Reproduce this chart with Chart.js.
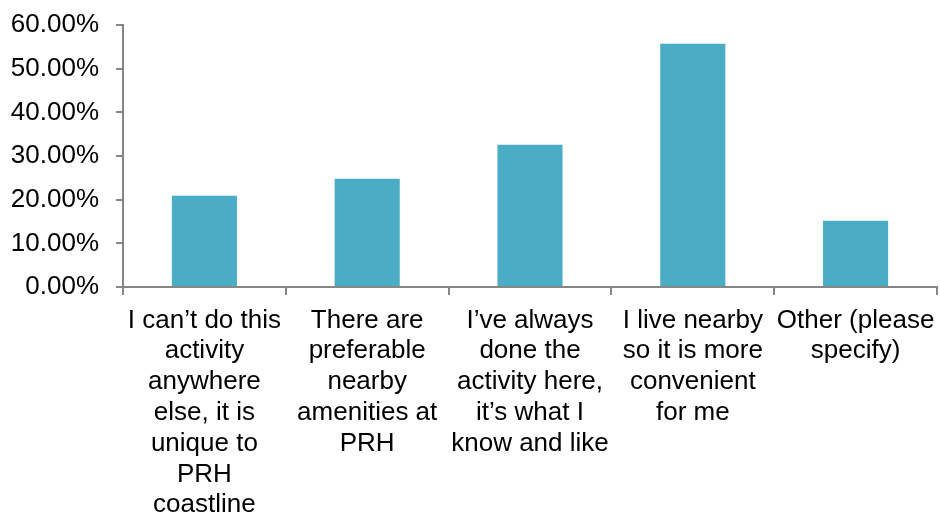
<!DOCTYPE html>
<html>
<head>
<meta charset="utf-8">
<script src="https://cdn.jsdelivr.net/npm/chart.js@4"></script>
<style>
  body { margin: 0; background: #fff; }
  #wrap { width: 940px; height: 515px; }
</style>
</head>
<body>
<div id="wrap"><canvas id="reasonChart" width="940" height="515"></canvas></div>
<script>
const categories = [
    ["I can’t do this", "activity", "anywhere", "else, it is", "unique to", "PRH", "coastline"],
    ["There are", "preferable", "nearby", "amenities at", "PRH"],
    ["I’ve always", "done the", "activity here,", "it’s what I", "know and like"],
    ["I live nearby", "so it is more", "convenient", "for me"],
    ["Other (please", "specify)"]
];
const percentages = [20.9, 24.8, 32.6, 55.7, 15.2];
const yTicks = [0, 10, 20, 30, 40, 50, 60];

const axisGrey = '#868686';
const fontFamily = 'Arial, "Liberation Sans", sans-serif';

const ctx = document.getElementById('reasonChart').getContext('2d');

new Chart(ctx, {
    type: 'bar',
    data: {
        labels: categories,
        datasets: [{
            data: percentages,
            backgroundColor: '#4BACC6',
            borderWidth: 0,
            barPercentage: 0.4,
            categoryPercentage: 1
        }]
    },
    options: {
        responsive: false,
        animation: false,
        layout: { padding: { top: 25, right: 3, bottom: 0, left: 0 } },
        plugins: {
            legend: { display: false },
            tooltip: { enabled: false }
        },
        scales: {
            x: {
                grid: {
                    display: true,
                    offset: true,
                    drawOnChartArea: false,
                    tickLength: 8,
                    color: axisGrey,
                    lineWidth: 2
                },
                border: { display: true, color: axisGrey, width: 2 },
                ticks: {
                    autoSkip: false,
                    maxRotation: 0,
                    minRotation: 0,
                    padding: 10,
                    color: '#000',
                    font: { family: fontFamily, size: 26, lineHeight: 1.185 }
                },
                afterFit: (scale) => {
                    // fixed band for the wrapped category names
                    scale.height = 228;
                    scale.paddingLeft = 0;
                    scale.paddingRight = 0;
                }
            },
            y: {
                min: 0,
                max: 60,
                afterBuildTicks: (scale) => {
                    scale.ticks = yTicks.map(v => ({ value: v }));
                },
                grid: {
                    display: true,
                    drawOnChartArea: false,
                    tickLength: 7,
                    color: axisGrey,
                    lineWidth: 2
                },
                border: { display: true, color: axisGrey, width: 2 },
                ticks: {
                    padding: 17,
                    color: '#000',
                    font: { family: fontFamily, size: 26 },
                    callback: (v) => v.toFixed(2) + '%'
                },
                afterFit: (scale) => {
                    scale.width = 123;
                    scale.paddingTop = 0;
                    scale.paddingBottom = 0;
                }
            }
        }
    }
});
</script>
</body>
</html>
